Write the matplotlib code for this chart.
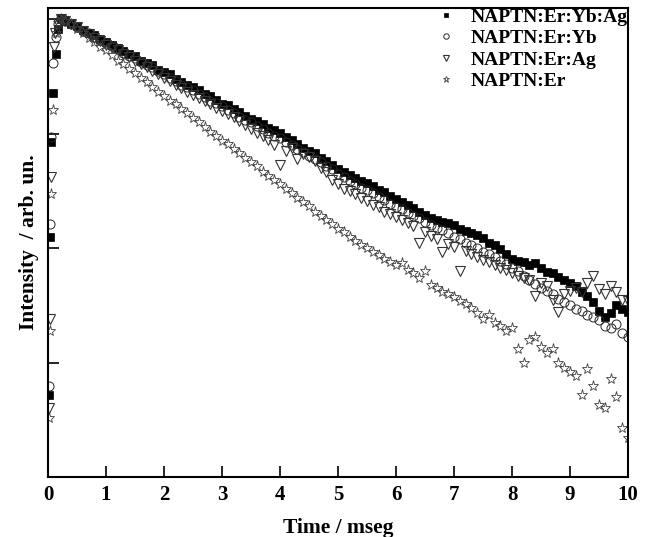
import numpy as np
import matplotlib
matplotlib.use("Agg")
import matplotlib.pyplot as plt

plt.rcParams['font.family'] = ['Liberation Serif', 'DejaVu Serif']
plt.rcParams['font.weight'] = 'bold'

labels = ["NAPTN:Er:Yb:Ag", "NAPTN:Er:Yb", "NAPTN:Er:Ag", "NAPTN:Er"]

# rising edge (time in ms, decades below the peak)
rise_t = {
    "sq": [0.02, 0.04, 0.06, 0.09, 0.13, 0.18, 0.23],
    "ci": [0.02, 0.04, 0.06, 0.09, 0.13, 0.18, 0.23],
    "tr": [0.02, 0.04, 0.06, 0.10, 0.12, 0.17, 0.23],
    "st": [0.02, 0.04, 0.06, 0.09, 0.13, 0.18, 0.23],
}
rise_d = {
    "sq": [3.28, 1.90, 1.07, 0.64, 0.30, 0.08, 0.0],
    "ci": [3.20, 1.79, 1.03, 0.38, 0.15, 0.04, 0.0],
    "tr": [3.40, 2.62, 1.38, 0.24, 0.12, 0.03, 0.0],
    "st": [3.48, 2.72, 1.53, 0.79, 0.12, 0.03, 0.0],
}

# decay part, sampled every 0.1 ms from 0.3 to 10.0 ms
t_decay = np.round(np.arange(0.3, 10.001, 0.1), 2)

sq_d = [0.01, 0.04, 0.06, 0.09, 0.12, 0.14, 0.17, 0.20, 0.22, 0.25,
        0.28, 0.30, 0.32, 0.36, 0.38, 0.40, 0.44, 0.46, 0.48, 0.52,
        0.55, 0.57, 0.59, 0.62, 0.65, 0.67, 0.70, 0.74, 0.75, 0.78,
        0.81, 0.84, 0.87, 0.89, 0.91, 0.95, 0.97, 0.99, 1.03, 1.05,
        1.09, 1.12, 1.15, 1.17, 1.21, 1.24, 1.27, 1.31, 1.33, 1.36,
        1.39, 1.41, 1.43, 1.46, 1.49, 1.51, 1.54, 1.57, 1.60, 1.62,
        1.65, 1.68, 1.71, 1.74, 1.75, 1.77, 1.78, 1.80, 1.83, 1.85,
        1.87, 1.88, 1.91, 1.95, 1.97, 2.01, 2.05, 2.09, 2.11, 2.12,
        2.15, 2.13, 2.17, 2.21, 2.22, 2.25, 2.28, 2.30, 2.33, 2.38,
        2.42, 2.47, 2.55, 2.60, 2.57, 2.50, 2.53, 2.56]

ci_d = [0.01, 0.04, 0.07, 0.10, 0.12, 0.15, 0.18, 0.21, 0.23, 0.26,
        0.29, 0.32, 0.34, 0.37, 0.40, 0.42, 0.45, 0.48, 0.51, 0.54,
        0.57, 0.59, 0.62, 0.65, 0.68, 0.71, 0.73, 0.76, 0.79, 0.82,
        0.85, 0.88, 0.90, 0.93, 0.96, 0.99, 1.02, 1.04, 1.07, 1.10,
        1.13, 1.16, 1.19, 1.22, 1.25, 1.28, 1.31, 1.35, 1.38, 1.41,
        1.44, 1.47, 1.49, 1.52, 1.55, 1.58, 1.61, 1.64, 1.66, 1.69,
        1.72, 1.74, 1.77, 1.80, 1.82, 1.84, 1.87, 1.90, 1.92, 1.95,
        1.97, 2.00, 2.03, 2.05, 2.08, 2.11, 2.14, 2.17, 2.20, 2.24,
        2.28, 2.31, 2.35, 2.37, 2.40, 2.44, 2.47, 2.50, 2.53, 2.55,
        2.58, 2.60, 2.63, 2.68, 2.70, 2.66, 2.74, 2.78]

tr_d = [0.01, 0.04, 0.07, 0.10, 0.13, 0.16, 0.19, 0.22, 0.25, 0.27,
        0.30, 0.33, 0.36, 0.39, 0.42, 0.45, 0.48, 0.51, 0.54, 0.57,
        0.60, 0.63, 0.66, 0.69, 0.71, 0.74, 0.77, 0.80, 0.83, 0.85,
        0.89, 0.92, 0.96, 0.99, 1.02, 1.05, 1.10, 1.27, 1.15, 1.12,
        1.22, 1.18, 1.20, 1.24, 1.30, 1.33, 1.40, 1.44, 1.48, 1.50,
        1.53, 1.56, 1.59, 1.62, 1.64, 1.68, 1.70, 1.73, 1.75, 1.78,
        1.81, 1.95, 1.86, 1.89, 1.92, 2.03, 1.96, 1.99, 2.20, 2.02,
        2.05, 2.08, 2.10, 2.12, 2.15, 2.17, 2.19, 2.22, 2.24, 2.26,
        2.28, 2.42, 2.30, 2.33, 2.45, 2.56, 2.40, 2.37, 2.35, 2.38,
        2.30, 2.24, 2.36, 2.40, 2.33, 2.38, 2.45, 2.46]

st_d = [0.01, 0.04, 0.08, 0.12, 0.16, 0.20, 0.24, 0.27, 0.31, 0.36,
        0.39, 0.43, 0.47, 0.51, 0.55, 0.59, 0.63, 0.67, 0.71, 0.74,
        0.78, 0.82, 0.86, 0.90, 0.94, 0.98, 1.02, 1.06, 1.09, 1.13,
        1.17, 1.21, 1.25, 1.28, 1.33, 1.37, 1.40, 1.44, 1.48, 1.52,
        1.56, 1.60, 1.63, 1.68, 1.72, 1.75, 1.79, 1.83, 1.86, 1.90,
        1.94, 1.97, 2.00, 2.03, 2.06, 2.09, 2.12, 2.15, 2.13, 2.19,
        2.22, 2.26, 2.20, 2.32, 2.35, 2.38, 2.40, 2.43, 2.46, 2.49,
        2.52, 2.57, 2.62, 2.58, 2.65, 2.68, 2.72, 2.70, 2.88, 3.00,
        2.80, 2.78, 2.86, 2.92, 2.88, 3.00, 3.05, 3.08, 3.12, 3.28,
        3.06, 3.20, 3.37, 3.40, 3.14, 3.30, 3.57, 3.66]

decay_d = {"sq": sq_d, "ci": ci_d, "tr": tr_d, "st": st_d}

styles = {
    "sq": dict(marker='s', ms=6, mfc='black', mec='black', mew=0.5),
    "ci": dict(marker='o', ms=6.5, mfc='none', mec='0.15', mew=0.7),
    "tr": dict(marker='v', ms=7.5, mfc='none', mec='0.2', mew=0.8),
    "st": dict(marker='*', ms=8, mfc='none', mec='0.25', mew=0.6),
}

fig = plt.figure(figsize=(6.51, 5.37), dpi=100)
ax = fig.add_axes([0.0737, 0.1117, 0.891, 0.8734])

for key, lab in zip(["sq", "ci", "tr", "st"], labels):
    t = np.concatenate([rise_t[key], t_decay])
    d = np.concatenate([rise_d[key], decay_d[key]])
    ax.plot(t, 10.0 ** (-d), linestyle='none', label=lab, **styles[key])

ax.set_yscale('log')
ax.set_xlim(0, 10)
ax.set_ylim(1e-4, 10 ** 0.1)
ax.set_xticks(range(0, 11))
ax.set_yticks([1e-3, 1e-2, 1e-1, 1])
ax.yaxis.set_minor_locator(matplotlib.ticker.NullLocator())
ax.set_yticklabels([])
ax.tick_params(axis='both', direction='in', length=8, width=1.2)
ax.tick_params(axis='x', labelsize=15, pad=6)
for s in ax.spines.values():
    s.set_linewidth(1.5)

ax.set_xlabel("Time / mseg", fontsize=15.5, fontweight='bold', labelpad=9)
ax.set_ylabel("Intensity  / arb. un.", fontsize=15.5, fontweight='bold', labelpad=3)

ax.legend(loc='upper right', bbox_to_anchor=(1.0, 1.0), frameon=False,
          prop=dict(size=14, weight='bold'), handlelength=1.0,
          handletextpad=0.8, labelspacing=0.2, borderaxespad=0.0,
          borderpad=0.0, markerscale=0.6)

fig.savefig("out.png", dpi=100)
